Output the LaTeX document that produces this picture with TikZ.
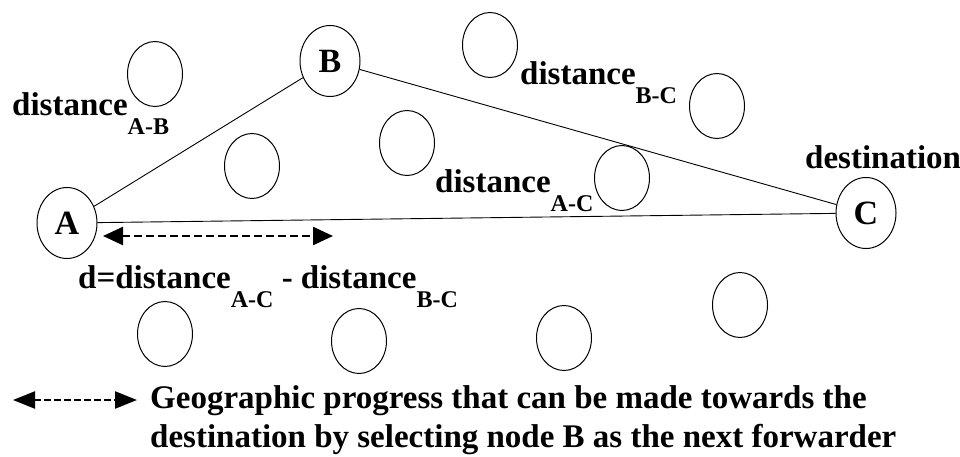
\documentclass[tikz,border=0pt]{standalone}
\usepackage{fontspec}
\setmainfont{Liberation Serif}
\usetikzlibrary{shapes.geometric,arrows.meta}
\newcommand{\dsub}[1]{\raisebox{-19pt}{\fontsize{24}{24}\selectfont #1}}
\begin{document}
\begin{tikzpicture}[x=1pt,y=-1pt,
  lbl/.style={inner sep=0pt, anchor=base west, font=\fontsize{33}{38}\selectfont\bfseries},
  mainnode/.style={ellipse, draw, line width=1pt, inner sep=0pt, minimum width=60pt, minimum height=71pt, font=\fontsize{34}{38}\selectfont\bfseries},
  other/.style={ellipse, draw, line width=1pt, inner sep=0pt, minimum width=55pt, minimum height=65pt},
  link/.style={draw, line width=0.9pt},
  progress/.style={line width=2.4pt, dash pattern=on 8pt off 4pt, {Triangle[length=20pt,width=18pt]}-{Triangle[length=20pt,width=18pt]}},
  legendarrow/.style={line width=2.4pt, dash pattern=on 7pt off 3pt, {Triangle[length=22pt,width=17pt]}-{Triangle[length=22pt,width=17pt]}}
]
\useasboundingbox (0,0) rectangle (960,457);
% main nodes
\node[mainnode] (A) at (67,223) {A};
\node[mainnode] (B) at (330,61) {B};
\node[mainnode] (C) at (866,213) {C};
% other nodes
\node[other] (o1) at (155,74) {};
\node[other] (o2) at (252,166) {};
\node[other] (o3) at (407,143) {};
\node[other] (o4) at (490,45) {};
\node[other] (o5) at (717,106) {};
\node[other] (o6) at (622,178) {};
\node[other] (o7) at (165,334) {};
\node[other] (o8) at (359,341) {};
\node[other] (o9) at (564,338) {};
\node[other] (o10) at (740,305) {};
% links
\draw[link] (A) -- (B);
\draw[link] (B) -- (C);
\draw[link] (A) -- (C);
% progress arrow
\coordinate (p1) at (103,236);
\coordinate (p2) at (333,236);
\draw[progress] (p1) -- (p2);
% labels
\node[lbl] (lAB) at (12,116) {distance\dsub{A-B}};
\node[lbl] (lBC) at (520,85) {distance\dsub{B-C}};
\node[lbl] (lAC) at (435,193) {distance\dsub{A-C}};
\node[lbl] (ldest) at (805,168) {destination};
\node[lbl] (lform) at (78,288) {d=distance\dsub{A-C} - distance\dsub{B-C}};
% legend
\coordinate (q1) at (13,400);
\coordinate (q2) at (137,400);
\draw[legendarrow] (q1) -- (q2);
\node[lbl] (leg1) at (150,408) {Geographic progress that can be made towards the};
\node[lbl] (leg2) at (150,447) {destination by selecting node B as the next forwarder};
\end{tikzpicture}
\end{document}
